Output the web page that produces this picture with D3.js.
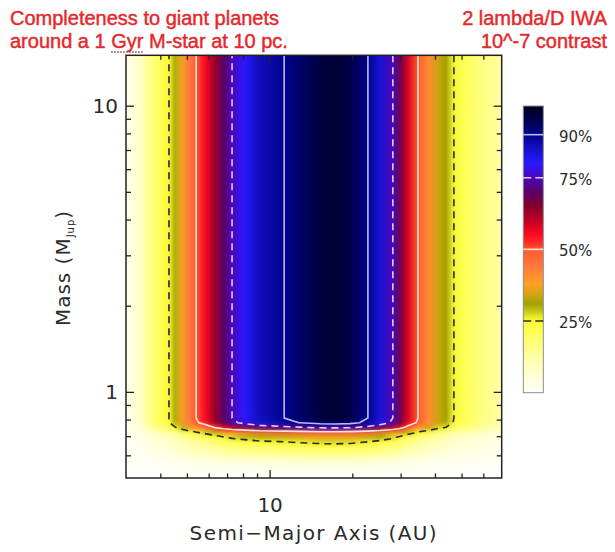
<!doctype html>
<html lang="en">
<head>
<meta charset="UTF-8">
<title>Completeness map</title>
<script src="https://cdnjs.cloudflare.com/ajax/libs/d3/7.8.5/d3.min.js"></script>
<style>
    body { margin: 0; background: #fff; }
    text { font-family: "DejaVu Sans", sans-serif; fill: #2a2a2a; }
    .title { font-family: "Liberation Sans", Arial, sans-serif; font-size: 20px; fill: #e5282c;
             stroke: #e5282c; stroke-width: 0.45px; }
</style>
</head>
<body>
<svg id="chart" width="615" height="552"></svg>
<script>

    // completeness read across the map (above the mass cut-off), per semi-major axis in AU
    var smaValues = [3, 3.4, 3.7, 4, 4.3, 4.5, 4.8, 5.1, 5.4, 5.8, 6.3, 6.8, 7.3, 8.1, 9.2, 11.3, 12.9,
        15.3, 17.3, 19.6, 22.8, 25.2, 28.1, 29.9, 31.9, 34.7, 37.7, 41.1, 43.9, 46.9, 51.5, 58.4, 70];
    var completenessBySma = [0.02, 0.08, 0.16, 0.21, 0.25, 0.30, 0.37, 0.44, 0.50, 0.55, 0.63, 0.70, 0.75, 0.80, 0.86, 0.90, 0.93,
        0.965, 0.975, 0.96, 0.90, 0.84, 0.75, 0.68, 0.58, 0.50, 0.42, 0.34, 0.31, 0.25, 0.21, 0.17, 0.12];

    // fraction of that completeness kept at each mass (M_Jup)
    var massValues = [0.5, 0.55, 0.58, 0.61, 0.64, 0.67, 0.7, 0.725, 0.75, 0.78, 0.81, 0.85, 1, 2, 5, 10, 15];
    var massFactor = [0, 0.03, 0.08, 0.16, 0.22, 0.28, 0.37, 0.51, 0.79, 0.97, 1, 1, 1, 1, 1, 1, 1];

    var levels = [0.25, 0.5, 0.75, 0.9];
    var levelLabels = ['25%', '50%', '75%', '90%'];

    var xMajorTicks = [10];
    var xMinorTicks = [4, 5, 6, 7, 8, 9, 20, 30, 40, 50, 60];
    var yMajorTicks = [1, 10];
    var yMinorTicks = [0.6, 0.7, 0.8, 0.9, 2, 3, 4, 5, 6, 7, 8, 9];

    var titleLeft = ['Completeness to giant planets', 'around a 1 Gyr M-star at 10 pc.'];
    var titleRight = ['2 lambda/D IWA', '10^-7 contrast'];


    var pLeft = 126, pRight = 501.7, pTop = 55.3, pBottom = 478;

    var svg = d3.select('#chart');
    var defs = svg.append('defs');

    var x = d3.scaleLog().domain([3, 70]).range([pLeft, pRight]);
    var y = d3.scaleLog().domain([0.5, 15]).range([pBottom, pTop]);

    // colour table: white - yellow - olive - orange - red - purple - blue - black
    var colorStops = [0, 0.1, 0.18, 0.24, 0.26, 0.29, 0.31, 0.34, 0.38, 0.44, 0.5, 0.52, 0.55, 0.6,
        0.65, 0.7, 0.75, 0.8, 0.85, 0.9, 0.95, 1];
    var colorRange = ['#fffffb', '#ffffb8', '#ffff72', '#ffff3c', '#f0f030', '#bdbd12', '#a2a200', '#cfa312',
        '#ffa024', '#ff7a3c', '#ff5a2c', '#ff3028', '#ff0a22', '#c20022', '#84002c', '#5c0068', '#4c06b8',
        '#2a18ff', '#1410c8', '#02028c', '#000052', '#00001a'];
    var colorScale = d3.scaleLinear().domain(colorStops).range(colorRange).clamp(true);

    var lineStyle = {
        0.25: {stroke: '#2b2b2b', dash: '7,5', opacity: 1},
        0.5: {stroke: '#fff2f2', dash: null, opacity: 0.9},
        0.75: {stroke: '#ece4ff', dash: '7,5', opacity: 0.9},
        0.9: {stroke: '#dcdcff', dash: null, opacity: 0.85}
    };

    defs.append('clipPath').attr('id', 'plotClip')
        .append('rect')
        .attr('x', pLeft).attr('y', pTop)
        .attr('width', pRight - pLeft).attr('height', pBottom - pTop);

    var vBlur = defs.append('filter').attr('id', 'vblur')
        .attr('filterUnits', 'userSpaceOnUse')
        .attr('x', -50).attr('y', -100).attr('width', 715).attr('height', 752)
        .attr('color-interpolation-filters', 'sRGB');
    vBlur.append('feGaussianBlur').attr('stdDeviation', '0 2.2');

    //======== heat map rows ========

    var nx = smaValues.length, ny = massValues.length;
    var gx0 = x(smaValues[0]), gx1 = x(smaValues[nx - 1]);

    massValues.forEach(function (m, i) {
        var grad = defs.append('linearGradient')
            .attr('id', 'row' + i)
            .attr('gradientUnits', 'userSpaceOnUse')
            .attr('x1', gx0).attr('x2', gx1).attr('y1', 0).attr('y2', 0);
        grad.selectAll('stop')
            .data(smaValues)
            .enter().append('stop')
            .attr('offset', function (d) {
                return (x(d) - gx0) / (gx1 - gx0);
            })
            .attr('stop-color', function (d, j) {
                return colorScale(completenessBySma[j] * massFactor[i]);
            });
    });

    function rowTop(m, i) {
        return i === ny - 1 ? y(m) - 40 : y(Math.sqrt(m * massValues[i + 1]));
    }

    function rowBottom(m, i) {
        return i === 0 ? y(m) + 40 : y(Math.sqrt(m * massValues[i - 1]));
    }

    var heat = svg.append('g').attr('clip-path', 'url(#plotClip)');

    heat.append('g')
        .attr('filter', 'url(#vblur)')
        .selectAll('rect')
        .data(massValues)
        .enter().append('rect')
        .attr('x', gx0)
        .attr('width', gx1 - gx0)
        .attr('y', rowTop)
        .attr('height', function (m, i) {
            return rowBottom(m, i) - rowTop(m, i) + 0.6;
        })
        .attr('fill', function (m, i) {
            return 'url(#row' + i + ')';
        });

    //======== contours ========

    var grid = [];
    massValues.forEach(function (m, i) {
        smaValues.forEach(function (a, j) {
            grid.push(completenessBySma[j] * massFactor[i]);
        });
    });

    var contours = d3.contours().size([nx, ny]).thresholds(levels)(grid);

    var xi = d3.scaleLinear().domain(d3.range(nx)).range(smaValues.map(function (d) { return x(d); }));
    var yi = d3.scaleLinear().domain(d3.range(ny)).range(massValues.map(function (d) { return y(d); }));

    var contourPath = d3.geoPath(d3.geoTransform({
        point: function (px, py) {
            this.stream.point(xi(px - 0.5), yi(py - 0.5));
        }
    }));

    heat.append('g')
        .selectAll('path')
        .data(contours)
        .enter().append('path')
        .attr('d', contourPath)
        .attr('fill', 'none')
        .attr('stroke', function (d) { return lineStyle[d.value].stroke; })
        .attr('stroke-opacity', function (d) { return lineStyle[d.value].opacity; })
        .attr('stroke-dasharray', function (d) { return lineStyle[d.value].dash; })
        .attr('stroke-width', 1.6);

    //======== axes ========

    function styleAxis(g) {
        g.select('.domain').remove();
        g.selectAll('line').attr('stroke', '#222').attr('stroke-width', 1.3);
        g.selectAll('text').attr('font-size', '20px').attr('fill', '#2a2a2a')
            .attr('font-family', '"DejaVu Sans", sans-serif');
    }

    svg.append('g').attr('transform', 'translate(0,' + pBottom + ')')
        .call(d3.axisBottom(x).tickValues(xMajorTicks).tickSize(-8).tickPadding(19.5)
            .tickFormat(d3.format('d')))
        .call(styleAxis);
    svg.append('g').attr('transform', 'translate(0,' + pBottom + ')')
        .call(d3.axisBottom(x).tickValues(xMinorTicks).tickSize(-4.5).tickFormat(''))
        .call(styleAxis);
    svg.append('g').attr('transform', 'translate(0,' + pTop + ')')
        .call(d3.axisTop(x).tickValues(xMajorTicks).tickSize(-8).tickFormat(''))
        .call(styleAxis);
    svg.append('g').attr('transform', 'translate(0,' + pTop + ')')
        .call(d3.axisTop(x).tickValues(xMinorTicks).tickSize(-4.5).tickFormat(''))
        .call(styleAxis);

    svg.append('g').attr('transform', 'translate(' + pLeft + ',0)')
        .call(d3.axisLeft(y).tickValues(yMajorTicks).tickSize(-8).tickPadding(8)
            .tickFormat(d3.format('d')))
        .call(styleAxis);
    svg.append('g').attr('transform', 'translate(' + pLeft + ',0)')
        .call(d3.axisLeft(y).tickValues(yMinorTicks).tickSize(-5).tickFormat(''))
        .call(styleAxis);
    svg.append('g').attr('transform', 'translate(' + pRight + ',0)')
        .call(d3.axisRight(y).tickValues(yMajorTicks).tickSize(-8).tickFormat(''))
        .call(styleAxis);
    svg.append('g').attr('transform', 'translate(' + pRight + ',0)')
        .call(d3.axisRight(y).tickValues(yMinorTicks).tickSize(-5).tickFormat(''))
        .call(styleAxis);

    svg.append('rect')
        .attr('x', pLeft).attr('y', pTop)
        .attr('width', pRight - pLeft).attr('height', pBottom - pTop)
        .attr('fill', 'none').attr('stroke', '#222').attr('stroke-width', 1.5);

    svg.append('text')
        .attr('x', (pLeft + pRight) / 2).attr('y', 540)
        .attr('text-anchor', 'middle')
        .attr('font-size', '20px')
        .attr('letter-spacing', '1.4px')
        .text('Semi\u2212Major Axis (AU)');

    var ylab = svg.append('text')
        .attr('transform', 'translate(70,268) rotate(-90)')
        .attr('text-anchor', 'middle')
        .attr('font-size', '20px')
        .attr('letter-spacing', '1px');
    ylab.append('tspan').text('Mass (M');
    ylab.append('tspan').attr('font-size', '10px').attr('dy', 4).text('Jup');
    ylab.append('tspan').attr('dy', -4).text(')');

    //======== colour bar ========

    var cbLeft = 523.3, cbWidth = 20;
    var cb = d3.scaleLinear().domain([0, 1]).range([392.7, 106]);

    var cbGrad = defs.append('linearGradient')
        .attr('id', 'cbGrad')
        .attr('gradientUnits', 'userSpaceOnUse')
        .attr('x1', 0).attr('x2', 0).attr('y1', cb(0)).attr('y2', cb(1));
    cbGrad.selectAll('stop')
        .data(colorStops)
        .enter().append('stop')
        .attr('offset', function (d) { return d; })
        .attr('stop-color', function (d, i) { return colorRange[i]; });

    svg.append('rect')
        .attr('x', cbLeft).attr('y', cb(1))
        .attr('width', cbWidth).attr('height', cb(0) - cb(1))
        .attr('fill', 'url(#cbGrad)')
        .attr('stroke', '#8c8c8c').attr('stroke-width', 1);

    svg.append('g')
        .selectAll('line')
        .data(levels)
        .enter().append('line')
        .attr('x1', cbLeft).attr('x2', cbLeft + cbWidth)
        .attr('y1', function (d) { return cb(d); })
        .attr('y2', function (d) { return cb(d); })
        .attr('stroke', function (d) { return lineStyle[d].stroke; })
        .attr('stroke-opacity', function (d) { return lineStyle[d].opacity; })
        .attr('stroke-dasharray', function (d) { return lineStyle[d].dash ? '8,4' : null; })
        .attr('stroke-width', 1.6);

    svg.append('g')
        .selectAll('text')
        .data(levels)
        .enter().append('text')
        .attr('x', 559)
        .attr('y', function (d) { return cb(d) + 7; })
        .attr('font-size', '15px')
        .attr('fill', '#333')
        .text(function (d, i) { return levelLabels[i]; });

    //======== titles ========

    var tl = svg.append('g');
    tl.selectAll('text')
        .data(titleLeft)
        .enter().append('text')
        .attr('class', 'title')
        .attr('x', 10)
        .attr('y', function (d, i) { return 25 + i * 23; })
        .text(function (d) { return d; });

    svg.append('g')
        .selectAll('text')
        .data(titleRight)
        .enter().append('text')
        .attr('class', 'title')
        .attr('x', 607)
        .attr('text-anchor', 'end')
        .attr('y', function (d, i) { return 25 + i * 23; })
        .text(function (d) { return d; });

    // dotted spell-check mark under "Gyr"
    var line2 = tl.selectAll('text').nodes()[1];
    var gi = titleLeft[1].indexOf('Gyr');
    var gStart = 10 + line2.getSubStringLength(0, gi);
    var gWidth = line2.getSubStringLength(gi, 3);
    svg.append('line')
        .attr('x1', gStart).attr('x2', gStart + gWidth)
        .attr('y1', 52).attr('y2', 52)
        .attr('stroke', '#a03a3a')
        .attr('stroke-width', 1.5)
        .attr('stroke-dasharray', '1.5,1.5');

</script>
</body>
</html>
